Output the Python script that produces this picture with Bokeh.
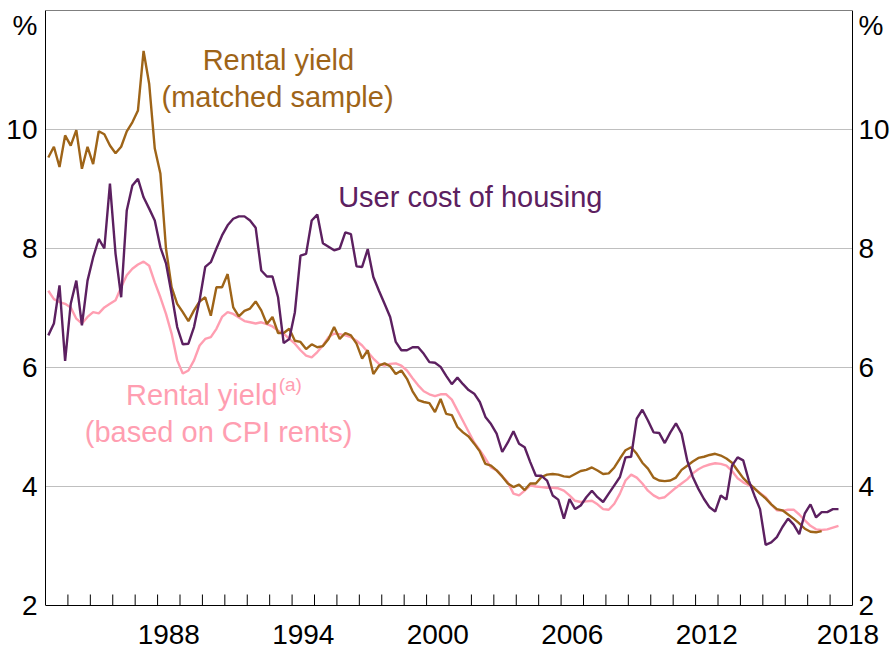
from bokeh.plotting import figure
from bokeh.models import FixedTicker, LinearAxis, Range1d, Label
from bokeh.embed import file_html
from bokeh.resources import INLINE

FONT = "Liberation Sans"
BROWN = "#9E6418"
PURPLE = "#5C2060"
PINK = "#FF9EB1"

# Quarterly series, first observation 1983 Q1
first_year = 1983

rental_yield_matched = [
    9.53, 9.71, 9.37, 9.90, 9.73, 9.99, 9.34, 9.71, 9.42, 9.97,
    9.92, 9.73, 9.60, 9.71, 9.97, 10.12, 10.32, 11.32, 10.77, 9.68,
    9.26, 8.00, 7.35, 7.07, 6.93, 6.78, 6.96, 7.11, 7.18, 6.87,
    7.35, 7.35, 7.57, 7.01, 6.86, 6.95, 6.99, 7.11, 6.96, 6.73,
    6.85, 6.58, 6.58, 6.65, 6.45, 6.43, 6.31, 6.39, 6.34, 6.36,
    6.48, 6.68, 6.48, 6.58, 6.54, 6.40, 6.15, 6.29, 5.89, 6.03,
    6.07, 6.02, 5.89, 5.95, 5.81, 5.60, 5.45, 5.42, 5.40, 5.25,
    5.47, 5.22, 5.20, 5.00, 4.91, 4.84, 4.72, 4.59, 4.38, 4.35,
    4.27, 4.17, 4.05, 3.99, 4.03, 3.94, 4.05, 4.05, 4.16, 4.20,
    4.21, 4.20, 4.17, 4.16, 4.21, 4.26, 4.28, 4.32, 4.27, 4.21,
    4.22, 4.32, 4.47, 4.61, 4.66, 4.55, 4.40, 4.30, 4.15, 4.10,
    4.09, 4.10, 4.15, 4.28, 4.35, 4.42, 4.48, 4.50, 4.53, 4.55,
    4.52, 4.47, 4.40, 4.27, 4.14, 4.05, 3.97, 3.88, 3.80, 3.70,
    3.62, 3.60, 3.53, 3.46, 3.38, 3.29, 3.24, 3.23, 3.25,
]

user_cost = [
    6.54, 6.74, 7.38, 6.11, 7.07, 7.46, 6.71, 7.46, 7.85, 8.16,
    8.00, 9.09, 7.91, 7.18, 8.64, 9.06, 9.17, 8.86, 8.67, 8.47,
    8.02, 7.75, 7.24, 6.68, 6.39, 6.40, 6.68, 7.13, 7.69, 7.77,
    8.00, 8.22, 8.39, 8.50, 8.54, 8.54, 8.47, 8.35, 7.63, 7.53,
    7.53, 7.18, 6.41, 6.48, 6.93, 7.88, 7.91, 8.47, 8.57, 8.09,
    8.03, 7.97, 8.00, 8.27, 8.24, 7.70, 7.69, 7.99, 7.52, 7.29,
    7.07, 6.85, 6.43, 6.29, 6.29, 6.34, 6.34, 6.23, 6.09, 6.08,
    6.01, 5.86, 5.72, 5.83, 5.72, 5.62, 5.56, 5.42, 5.17, 5.05,
    4.89, 4.58, 4.74, 4.93, 4.72, 4.66, 4.41, 4.18, 4.18, 4.10,
    3.85, 3.78, 3.46, 3.79, 3.62, 3.68, 3.82, 3.93, 3.82, 3.74,
    3.88, 4.02, 4.16, 4.49, 4.50, 5.14, 5.29, 5.11, 4.91, 4.90,
    4.73, 4.91, 5.06, 4.89, 4.44, 4.16, 3.96, 3.79, 3.65, 3.58,
    3.85, 3.78, 4.35, 4.49, 4.44, 4.10, 3.85, 3.62, 3.02, 3.06,
    3.15, 3.32, 3.46, 3.36, 3.20, 3.55, 3.70, 3.48, 3.57, 3.57,
    3.62, 3.62,
]

rental_yield_cpi = [
    7.29, 7.15, 7.10, 7.07, 7.01, 6.82, 6.74, 6.85, 6.93, 6.91,
    7.01, 7.07, 7.13, 7.35, 7.55, 7.66, 7.73, 7.78, 7.71, 7.43,
    7.18, 6.90, 6.57, 6.12, 5.90, 5.95, 6.12, 6.37, 6.48, 6.51,
    6.65, 6.85, 6.93, 6.90, 6.84, 6.78, 6.76, 6.74, 6.76, 6.73,
    6.69, 6.62, 6.57, 6.48, 6.40, 6.29, 6.20, 6.17, 6.26, 6.37,
    6.51, 6.57, 6.56, 6.54, 6.51, 6.45, 6.37, 6.26, 6.15, 6.06,
    6.03, 6.06, 6.07, 6.03, 5.95, 5.82, 5.70, 5.60, 5.55, 5.52,
    5.55, 5.55, 5.46, 5.28, 5.10, 4.92, 4.74, 4.61, 4.47, 4.32,
    4.27, 4.17, 4.07, 3.88, 3.85, 3.93, 4.02, 4.00, 3.99, 3.98,
    3.98, 3.97, 3.93, 3.85, 3.76, 3.74, 3.75, 3.76, 3.70, 3.62,
    3.61, 3.71, 3.88, 4.10, 4.20, 4.15, 4.05, 3.93, 3.85, 3.80,
    3.82, 3.90, 3.98, 4.05, 4.12, 4.22, 4.29, 4.34, 4.37, 4.39,
    4.38, 4.35, 4.26, 4.14, 4.07, 4.02, 3.96, 3.89, 3.82, 3.70,
    3.60, 3.59, 3.61, 3.61, 3.53, 3.43, 3.34, 3.28, 3.27, 3.28,
    3.31, 3.34,
]

year_labels = ["1988", "1994", "2000", "2006", "2012", "2018"]
y_labels = ["2", "4", "6", "8", "10"]
grid_levels = [4, 6, 8, 10]


def quarter_dates(n):
    # mid-quarter positions of consecutive quarters from first_year Q1
    return [first_year + 0.125 + 0.25 * k for k in range(n)]


W, H = 891, 650
LEFT, RIGHT, TOP = 45, 39, 10
BOTTOM_SPACE = 45          # room under the y=2 baseline for the year labels
X0, X1 = 1983, 2019
Y0, Y1 = 2, 12
TICK_PX = 11

# The frame runs to the bottom and right edges of the canvas; the chart box
# (1983..2019 x 2..12) is drawn by axes pinned at fixed data locations.
box_w = W - LEFT - RIGHT
box_h = H - TOP - BOTTOM_SPACE
x_end = X1 + RIGHT * (X1 - X0) / box_w
y_start = Y0 - BOTTOM_SPACE * (Y1 - Y0) / box_h
tick_len = TICK_PX * (Y1 - Y0) / box_h

p = figure(
    width=W, height=H,
    x_range=Range1d(X0, x_end), y_range=Range1d(y_start, Y1),
    output_backend="svg", toolbar_location=None,
    x_axis_location=None, y_axis_location=None,
    min_border_left=LEFT, min_border_right=0,
    min_border_top=TOP, min_border_bottom=0,
)
p.background_fill_color = "white"
p.border_fill_color = "white"
p.outline_line_color = None
p.grid.visible = False

# horizontal grid lines inside the chart box
p.segment(x0=[X0] * len(grid_levels), y0=grid_levels,
          x1=[X1] * len(grid_levels), y1=grid_levels,
          line_color="#BFBFBF", line_width=1)

# year-boundary tick marks rising from the bottom line
year_ticks = list(range(X0 + 1, X1))
p.segment(x0=year_ticks, y0=[Y0] * len(year_ticks),
          x1=year_ticks, y1=[Y0 + tick_len] * len(year_ticks),
          line_color="black", line_width=1)


def bare_axis(**kw):
    ax = LinearAxis(**kw)
    ax.major_tick_in = 0
    ax.major_tick_out = 0
    ax.minor_tick_in = 0
    ax.minor_tick_out = 0
    ax.axis_line_color = "black"
    ax.major_label_text_font = FONT
    ax.major_label_text_font_size = "28px"
    ax.major_label_text_color = "black"
    return ax


# bottom line with year labels centred in their year
label_pos = [int(s) + 0.5 for s in year_labels]
label_pos[-1] = 2018.8
bottom_ax = bare_axis(fixed_location=Y0, bounds=(X0, X1))
bottom_ax.ticker = FixedTicker(ticks=[])
bottom_ax.major_label_text_font_size = "1px"
p.add_layout(bottom_ax, "below")

lab_ax = bare_axis(fixed_location=Y0, bounds=(X0, x_end))
lab_ax.ticker = FixedTicker(ticks=label_pos)
lab_ax.major_label_overrides = {pos: s for pos, s in zip(label_pos, year_labels)}
lab_ax.axis_line_color = None
lab_ax.major_label_standoff = 19
p.add_layout(lab_ax, "below")

# top line
top_ax = bare_axis(fixed_location=Y1, bounds=(X0, X1))
top_ax.ticker = FixedTicker(ticks=[])
top_ax.major_label_text_font_size = "1px"
p.add_layout(top_ax, "above")

# y axes (lines limited to the 2..12 band)
y_ticks = [float(s) for s in y_labels] + [11.75]
y_over = {float(s): s for s in y_labels}
y_over[11.75] = "%"

left_ax = bare_axis(bounds=(Y0, Y1))
left_ax.ticker = FixedTicker(ticks=y_ticks)
left_ax.major_label_overrides = dict(y_over)
left_ax.major_label_standoff = 8
p.add_layout(left_ax, "left")

right_ax = bare_axis(fixed_location=X1, bounds=(Y0, Y1))
right_ax.ticker = FixedTicker(ticks=y_ticks)
right_ax.major_label_overrides = dict(y_over)
right_ax.major_label_standoff = 6
p.add_layout(right_ax, "right")

# lines
p.line(quarter_dates(len(rental_yield_cpi)), rental_yield_cpi, line_color=PINK, line_width=2.4)
p.line(quarter_dates(len(rental_yield_matched)), rental_yield_matched, line_color=BROWN, line_width=2.4)
p.line(quarter_dates(len(user_cost)), user_cost, line_color=PURPLE, line_width=2.4)


# text annotations
def lab(x, y, text, color, size="29px", align="center"):
    p.add_layout(Label(x=x, y=y, text=text, text_color=color, text_font=FONT,
                       text_font_size=size, text_align=align, text_baseline="middle"))


lab(1993.39, 11.16, "Rental yield", BROWN)
lab(1993.35, 10.54, "(matched sample)", BROWN)
lab(2002.31, 8.86, "User cost  of  housing", PURPLE)
lab(1993.35, 5.53, "Rental yield", PINK, align="right")
lab(1993.40, 5.72, "(a)", PINK, size="19px", align="left")
lab(1990.72, 4.91, "(based on CPI rents)", PINK)

open("out.html", "w").write(file_html(p, INLINE))
